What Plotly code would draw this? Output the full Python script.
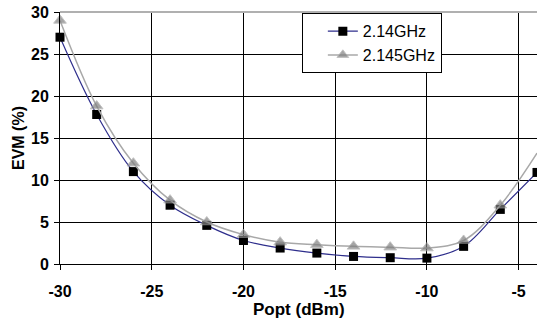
import plotly.graph_objects as go

popt = [-30, -28, -26, -24, -22, -20, -18, -16, -14, -12, -10, -8, -6, -4]
evm_214 = [27.0, 17.8, 11.0, 7.0, 4.6, 2.8, 1.9, 1.3, 0.9, 0.75, 0.7, 2.1, 6.5, 10.9]
evm_2145 = [29.0, 18.8, 12.0, 7.6, 5.0, 3.5, 2.6, 2.3, 2.1, 2.0, 1.9, 2.8, 7.0, 13.2]
tri_sizes = [11] * 13 + [0]

xticks = [-30, -25, -20, -15, -10, -5]
yticks = [0, 5, 10, 15, 20, 25, 30]

FONT = "Liberation Sans, Arial"

fig = go.Figure()
fig.add_trace(go.Scatter(
    x=popt, y=evm_214, name="2.14GHz", mode="lines+markers",
    line=dict(color="#2E2E8C", width=1.2, shape="spline", smoothing=1.0),
    marker=dict(symbol="square", color="black", size=9),
    cliponaxis=False,
))
fig.add_trace(go.Scatter(
    x=popt, y=evm_2145, name="2.145GHz", mode="lines+markers",
    line=dict(color="#A8A8A8", width=1.5, shape="spline", smoothing=1.0),
    marker=dict(symbol="triangle-up", color="#808080", size=tri_sizes),
    cliponaxis=False,
))

tickfont = dict(family=FONT, size=16, color="black")
fig.update_layout(
    width=537, height=322,
    margin=dict(l=60, r=0, t=12, b=58, autoexpand=False),
    plot_bgcolor="white", paper_bgcolor="white",
    showlegend=True,
    legend=dict(
        x=0.507, y=0.995, xanchor="left", yanchor="top",
        bgcolor="white", bordercolor="black", borderwidth=1,
        font=dict(family=FONT, size=16, color="black"),
        tracegroupgap=0, itemwidth=30,
        entrywidth=180, entrywidthmode="pixels",
        indentation=20,
    ),
    xaxis=dict(
        range=[-30, -4], tickvals=xticks,
        ticktext=[f"<b>{v}</b>" for v in xticks],
        showgrid=True, gridcolor="black", gridwidth=1,
        showline=True, linecolor="black", linewidth=1,
        ticks="outside", ticklen=5, tickcolor="black",
        tickfont=tickfont, ticklabelstandoff=8,
        zeroline=False, automargin=False,
    ),
    yaxis=dict(
        range=[0, 30], tickvals=yticks,
        ticktext=[f"<b>{v}</b>" for v in yticks],
        showgrid=True, gridcolor="black", gridwidth=1,
        showline=True, linecolor="black", linewidth=1,
        ticks="outside", ticklen=5, tickcolor="black",
        tickfont=tickfont, ticklabelstandoff=2,
        zeroline=False, automargin=False,
    ),
    shapes=[dict(type="line", xref="paper", yref="paper", x0=0, x1=1, y0=1, y1=1,
                 line=dict(color="#B0B0B0", width=2))],
    annotations=[
        dict(text="<b>Popt (dBm)</b>", xref="paper", yref="paper", x=0.5, y=0,
             yshift=-45, showarrow=False, xanchor="center", yanchor="middle",
             font=dict(family=FONT, size=17, color="black")),
        dict(text="<b>EVM (%)</b>", xref="paper", yref="paper", x=0, y=0.5,
             xshift=-42, showarrow=False, xanchor="center", yanchor="middle",
             textangle=-90, font=dict(family=FONT, size=16, color="black")),
    ],
)
fig.write_html(
    "out.html",
    config={"displayModeBar": False},
    post_script="document.body.style.margin='0';document.body.style.overflow='hidden';",
)
